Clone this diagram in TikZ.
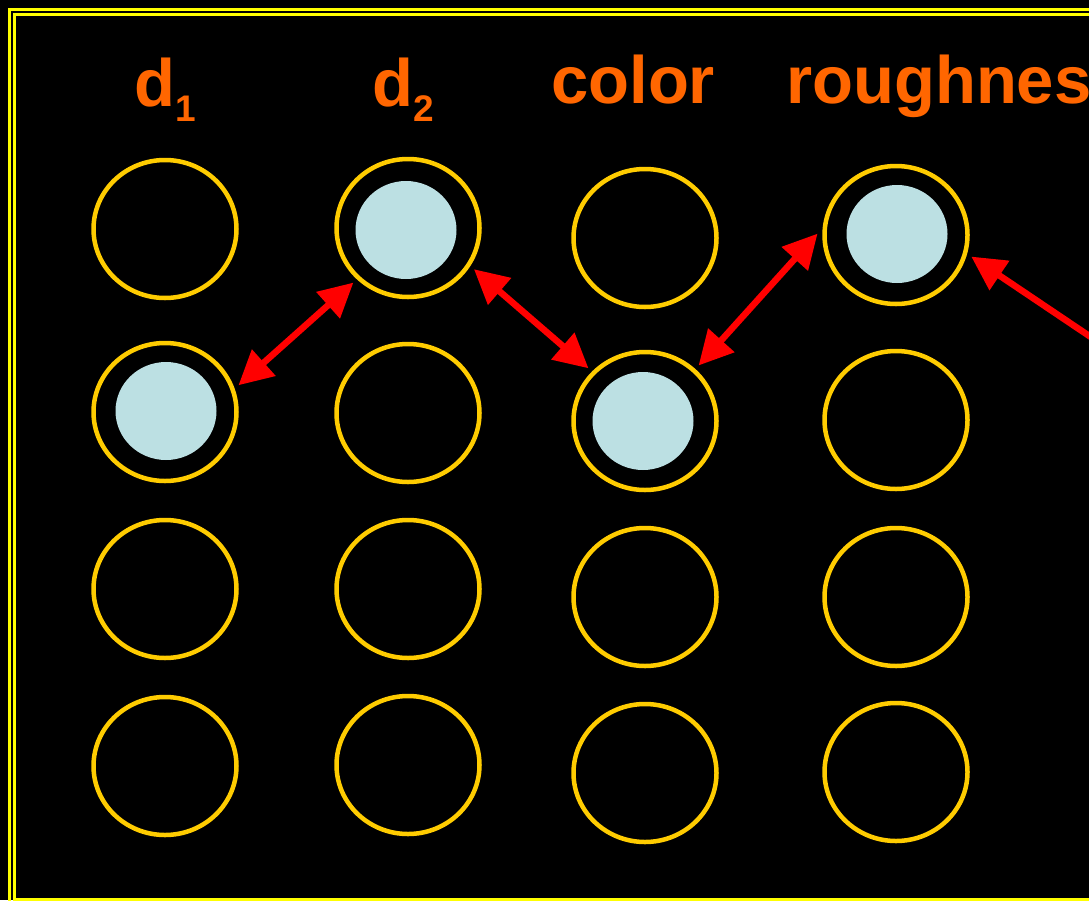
\documentclass[tikz,border=0pt]{standalone}
\usepackage{fontspec}
\setmainfont{Liberation Sans}
\usetikzlibrary{shapes.geometric,arrows.meta}
\definecolor{frameyellow}{HTML}{FFFF00}
\definecolor{ringgold}{HTML}{FFCC00}
\definecolor{labelorange}{HTML}{FF6600}
\definecolor{dotblue}{HTML}{BCE0E3}
\definecolor{arrowred}{HTML}{FF0000}
\begin{document}
\begin{tikzpicture}[x=1pt,y=-1pt,
  ring/.style={ellipse,draw=ringgold,line width=4.5pt,minimum width=143pt,minimum height=138pt,inner sep=0pt,outer sep=7pt},
  dot/.style={ellipse,fill=dotblue,minimum width=101pt,minimum height=98pt,inner sep=0pt},
  lbl/.style={anchor=base west,text=labelorange,font=\fontsize{67}{70}\selectfont\bfseries,inner sep=0pt},
  link/.style={arrowred,line width=6.5pt,{Triangle[length=34pt,width=34pt]}-{Triangle[length=34pt,width=34pt]}},
  link1/.style={arrowred,line width=6.5pt,-{Triangle[length=34pt,width=34pt]}}]
\fill[black] (0,0) rectangle (1089,900);
\useasboundingbox (0,0) rectangle (1089,900);
\clip (0,0) rectangle (1089,900);
% frame
\draw[frameyellow,line width=3pt] (9,9) rectangle (1100,906);
\draw[frameyellow,line width=3pt] (14,14) rectangle (1095,899);
% labels
\node[lbl] (l1) at (134,106) {d\raisebox{-15pt}{\fontsize{37}{40}\selectfont 1}};
\node[lbl] (l2) at (372,106) {d\raisebox{-15pt}{\fontsize{37}{40}\selectfont 2}};
\node[lbl] (l3) at (551,103) {color};
\node[lbl] (l4) at (786,103) {roughness};
% dots
\node[dot] (f21) at (166,411) {};
\node[dot] (f12) at (406,230) {};
\node[dot] (f23) at (643,421) {};
\node[dot] (f14) at (897,234) {};
% rings column 1
\node[ring] (c11) at (165,229) {};
\node[ring] (c21) at (165,412) {};
\node[ring] (c31) at (165,589) {};
\node[ring] (c41) at (165,766) {};
% column 2
\node[ring] (c12) at (408,228) {};
\node[ring] (c22) at (408,413) {};
\node[ring] (c32) at (408,589) {};
\node[ring] (c42) at (408,765) {};
% column 3
\node[ring] (c13) at (645,238) {};
\node[ring] (c23) at (645,421) {};
\node[ring] (c33) at (645,597) {};
\node[ring] (c43) at (645,773) {};
% column 4
\node[ring] (c14) at (896,235) {};
\node[ring] (c24) at (896,420) {};
\node[ring] (c34) at (896,597) {};
\node[ring] (c44) at (896,772) {};
% arrows
\coordinate (offright) at (1125,360);
\draw[link] (c21.20) -- (c12.225);
\draw[link] (c12.-32) -- (c23.137);
\draw[link] (c23.46) -- (c14.179);
\draw[link1] (offright) -- (c14.-16);
\end{tikzpicture}
\end{document}
